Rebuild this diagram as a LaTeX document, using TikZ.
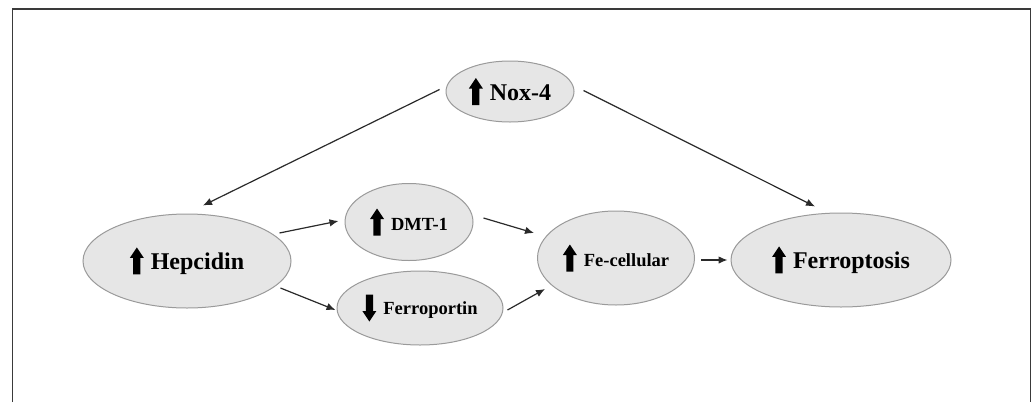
\documentclass[tikz,border=0pt]{standalone}
\usepackage{fontspec}
\setmainfont{Liberation Serif}
\usetikzlibrary{shapes.geometric,arrows.meta,calc}
\definecolor{ellfill}{HTML}{E6E6E6}
\definecolor{ellline}{HTML}{9A9A9A}
\definecolor{arrline}{HTML}{2A2A2A}
\definecolor{frameline}{HTML}{3A3A3A}
\newcommand{\uparr}{\tikz[x=1pt,y=1pt,baseline=0pt]\fill[black] (-3.6,-5) -- (3.6,-5) -- (3.6,11.5) -- (7,11.5) -- (0,22) -- (-7,11.5) -- (-3.6,11.5) -- cycle;\hspace{7pt}}
\newcommand{\downarr}{\tikz[x=1pt,y=1pt,baseline=0pt]\fill[black] (-3.6,20) -- (3.6,20) -- (3.6,3.5) -- (7,3.5) -- (0,-7) -- (-7,3.5) -- (-3.6,3.5) -- cycle;\hspace{7pt}}
\begin{document}
\begin{tikzpicture}[x=1pt,y=-1pt,
  oval/.style={ellipse,draw=ellline,fill=ellfill,line width=1pt,inner sep=0pt,font=\bfseries},
  bigtext/.style={font=\fontsize{24}{26}\selectfont\bfseries},
  smalltext/.style={font=\fontsize{18.5}{20}\selectfont\bfseries},
  arr/.style={draw=arrline,line width=1.2pt,-{Latex[length=9pt,width=7.5pt]}}]
\useasboundingbox (0,0) rectangle (1035,402);
\draw[frameline,line width=1.8pt] (12.5,402) -- (12.5,9) -- (1030.5,9) -- (1030.5,402);
\node[oval,bigtext,minimum width=128pt,minimum height=61pt] (nox) at (510,91.5) {\uparr Nox-4};
\node[oval,bigtext,minimum width=208pt,minimum height=94pt] (hep) at (187,261) {\uparr Hepcidin};
\node[oval,smalltext,minimum width=128pt,minimum height=77pt] (dmt) at (409,222) {\uparr DMT-1};
\node[oval,smalltext,minimum width=166pt,minimum height=74pt] (fpn) at (420,308) {\downarr Ferroportin};
\node[oval,smalltext,minimum width=157pt,minimum height=94pt] (fe) at (616,258) {\uparr Fe-cellular};
\node[oval,bigtext,minimum width=220pt,minimum height=94pt] (fer) at (841,260) {\uparr Ferroptosis};
\draw[arr] ($(nox.west)+(-6,-2)$) -- ($(hep.north)+(16,-8)$);
\draw[arr] ($(nox.east)+(9,-1)$) -- ($(fer.north)+(-26,-6)$);
\draw[arr] ($(hep.east)+(-12,-28)$) -- ($(dmt.west)+(-6,-1)$);
\draw[arr] ($(hep.east)+(-11,27)$) -- ($(fpn.west)+(-1,2)$);
\draw[arr] ($(dmt.east)+(10,-4)$) -- ($(fe.west)+(-3,-25)$);
\draw[arr] ($(fpn.east)+(4,2)$) -- ($(fe.west)+(8,31)$);
\draw[arr] ($(fe.east)+(6,2)$) -- ($(fer.west)+(-3,0)$);
\end{tikzpicture}
\end{document}
